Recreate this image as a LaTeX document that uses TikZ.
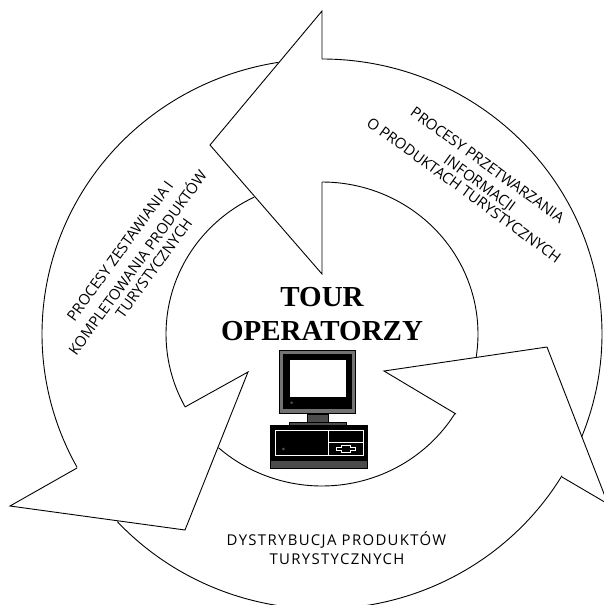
\documentclass[tikz,border=0pt]{standalone}
\usepackage{fontspec}
\usepackage{xcolor}
\setmainfont{Liberation Serif}
\newfontfamily\labelfont{Open Sans}
\newfontfamily\spacedfont[LetterSpace=9]{Open Sans}
\definecolor{casegray}{gray}{0.3}
\definecolor{rimgray}{gray}{0.45}

\begin{document}
\begin{tikzpicture}[x=1pt, y=-1pt, edge/.style={draw, line width=0.9pt, line join=miter},
        title/.style={font=\fontsize{29}{34}\selectfont\bfseries, align=center, inner sep=0pt},
        proc/.style={font=\labelfont\fontsize{14.9}{17}\selectfont, inner sep=0pt},
        procwide/.style={font=\spacedfont\fontsize{14.9}{17}\selectfont, inner sep=0pt}]

        \useasboundingbox (0,0) rectangle (604,605);
        \clip (0,0) rectangle (604,605);
        \coordinate (hub) at (322,334);

        % ring walls
        \foreach \from/\to in {90/-22, -31/-137, 209/99}
            \draw[edge] (hub) ++(\from:280pt and 275pt)
                arc[start angle=\from, end angle=\to, x radius=280pt, y radius=275pt];
        \foreach \from/\to in {90/-8.6, -31.5/-131.6, 208.7/115.8}
            \draw[edge] (hub) ++(\from:156pt and 152pt)
                arc[start angle=\from, end angle=\to, x radius=156pt, y radius=152pt];

        % arrow heads
        \draw[edge] (322,59) -- (322,11) -- (210,145) -- (322,274) -- (322,182);
        \draw[edge] (456,414) -- (384,371) -- (547,347) -- (608,504) -- (562,477);
        \draw[edge] (77,468) -- (10,506) -- (185,530) -- (248,372) -- (185,407);

        % labels
        \node[title] (tour) at (322,314) {TOUR\\OPERATORZY};

        \node[proc, rotate=-36] (procA) at (487.5,165) {PROCESY PRZETWARZANIA};
        \node[proc, rotate=-36] (procB) at (479,184) {INFORMACJI};
        \node[proc, rotate=-36] (procC) at (464,190) {O PRODUKTACH TURYSTYCZNYCH};

        \node[proc, rotate=54] (kompA) at (120,251) {PROCESY ZESTAWIANIA I};
        \node[proc, rotate=54] (kompB) at (136.5,262) {KOMPLETOWANIA PRODUKTÓW};
        \node[proc, rotate=54] (kompC) at (154,268) {TURYSTYCZNYCH};

        \node[procwide] (distA) at (336.5,540) {DYSTRYBUCJA PRODUKTÓW};
        \node[procwide] (distB) at (337,559) {TURYSTYCZNYCH};

        % monitor
        \draw[fill=rimgray, line width=1pt] (279.5,350.5) rectangle (355,413.5);
        \fill[black] (282.5,353.5) rectangle (352,408.5);
        \fill[white] (290,360) rectangle (345.7,397.3);
        \fill[casegray] (291.7,402.7) circle (1.5);
        \draw[fill=casegray, line width=1pt] (307.5,414) rectangle (328,423);
        \draw[fill=casegray, line width=0.6pt] (289.5,422.5) rectangle (346.5,425.5);

        % case
        \draw[fill=black, line width=1pt] (270.5,425.5) rectangle (367,460);
        \draw[fill=casegray, line width=1pt] (270.5,460) rectangle (367,468.5);
        \draw[white, line width=0.6pt] (275.5,430.5) rectangle (363,455.5);
        \draw[white, line width=0.6pt] (328.7,430.5) -- (328.7,455.5) (328.7,442.7) -- (363,442.7);
        \draw[white, fill=black, line width=0.6pt] (336,447.5) -- (341,447.5) -- (341,445.5) -- (350,445.5) -- (350,447.5)
            -- (355.5,447.5) -- (355.5,450.5) -- (350,450.5) -- (350,452.5) -- (341,452.5) -- (341,450.5) -- (336,450.5) -- cycle;
        \fill[casegray] (283.3,449) circle (1.5);
\end{tikzpicture}
\end{document}
